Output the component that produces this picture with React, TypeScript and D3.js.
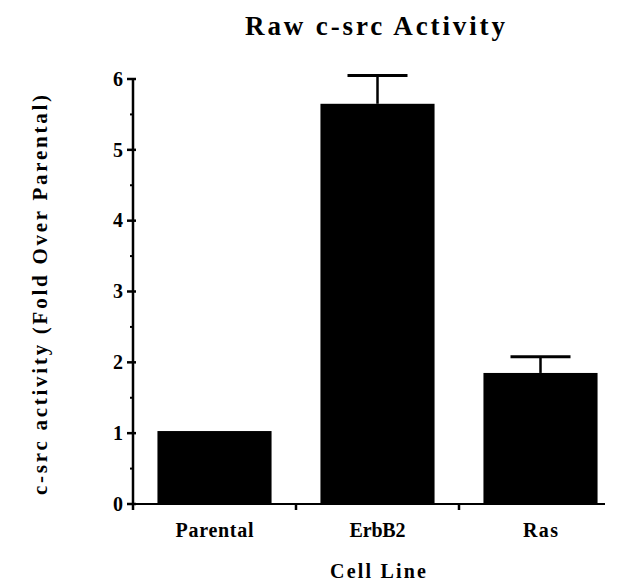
import React from "react";
import * as d3 from "d3";

const categories = ["Parental", "ErbB2", "Ras"];
const values = [1.03, 5.65, 1.85];
const errors = [0, 0.4, 0.23];
const yTicks = [0, 1, 2, 3, 4, 5, 6];
const yMinorTicks = [0.5, 1.5, 2.5, 3.5, 4.5, 5.5];
const title = "Raw c-src Activity";
const xTitle = "Cell Line";
const yTitle = "c-src activity (Fold Over Parental)";

const W = 617;
const H = 584;
const FONT = "'Liberation Serif', 'DejaVu Serif', serif";

export default function App() {
  const x = d3
    .scaleBand<string>()
    .domain(categories)
    .range([133, 622])
    .paddingInner(0.3)
    .paddingOuter(0.15);
  const y = d3.scaleLinear().domain([0, 6]).range([504, 79]);
  const step = x.step();
  const labelWidths: Record<string, number> = { Parental: 78, ErbB2: 56, Ras: 35 };

  return (
    <svg
      width={W}
      height={H}
      style={{ position: "absolute", left: 0, top: 0, background: "#fff" }}
    >
      <rect x={0} y={0} width={W} height={H} fill="#fff" />
      {/* title */}
      <text
        x={375}
        y={35}
        textAnchor="middle"
        fontFamily={FONT}
        fontWeight="bold"
        fontSize={27}
        textLength={260}
        lengthAdjust="spacing"
        fill="#000"
      >
        {title}
      </text>

      {/* bars */}
      {categories.map((c, i) => (
        <rect
          key={c}
          x={x(c)!}
          y={y(values[i])}
          width={x.bandwidth()}
          height={y(0) - y(values[i])}
          fill="#000"
        />
      ))}

      {/* error bars */}
      {categories.map((c, i) =>
        errors[i] > 0 ? (
          <g key={"e" + c} stroke="#000">
            <line
              x1={x(c)! + x.bandwidth() / 2}
              x2={x(c)! + x.bandwidth() / 2}
              y1={y(values[i])}
              y2={y(values[i] + errors[i])}
              strokeWidth={2.5}
            />
            <line
              x1={x(c)! + x.bandwidth() / 2 - 30}
              x2={x(c)! + x.bandwidth() / 2 + 30}
              y1={y(values[i] + errors[i])}
              y2={y(values[i] + errors[i])}
              strokeWidth={3}
            />
          </g>
        ) : null
      )}

      {/* y axis */}
      <line x1={133} x2={133} y1={78} y2={510} stroke="#000" strokeWidth={2.5} />
      {yTicks.map((t) => (
        <g key={"yt" + t}>
          <line x1={127} x2={136} y1={y(t)} y2={y(t)} stroke="#000" strokeWidth={2.5} />
          <text
            x={123}
            y={y(t)}
            dy="0.34em"
            textAnchor="end"
            fontFamily={FONT}
            fontWeight="bold"
            fontSize={20}
            fill="#000"
          >
            {t}
          </text>
        </g>
      ))}
      {yMinorTicks.map((t) => (
        <line key={"ym" + t} x1={130} x2={133} y1={y(t)} y2={y(t)} stroke="#000" strokeWidth={2} />
      ))}

      {/* x axis */}
      <line x1={133} x2={605} y1={504} y2={504} stroke="#000" strokeWidth={2} />
      {[1, 2].map((k) => (
        <line
          key={"xt" + k}
          x1={133 + step * k}
          x2={133 + step * k}
          y1={504}
          y2={510}
          stroke="#000"
          strokeWidth={2.5}
        />
      ))}
      {categories.map((c) => (
        <text
          key={"xl" + c}
          x={x(c)! + x.bandwidth() / 2}
          y={537}
          textAnchor="middle"
          fontFamily={FONT}
          fontWeight="bold"
          fontSize={20}
          textLength={labelWidths[c]}
          lengthAdjust="spacing"
          fill="#000"
        >
          {c}
        </text>
      ))}

      {/* axis titles */}
      <text
        x={378}
        y={578}
        textAnchor="middle"
        fontFamily={FONT}
        fontWeight="bold"
        fontSize={20}
        textLength={96}
        lengthAdjust="spacing"
        fill="#000"
      >
        {xTitle}
      </text>
      <text
        transform="translate(47,295) rotate(-90)"
        textAnchor="middle"
        fontFamily={FONT}
        fontWeight="bold"
        fontSize={21}
        textLength={400}
        lengthAdjust="spacing"
        fill="#000"
      >
        {yTitle}
      </text>
    </svg>
  );
}
